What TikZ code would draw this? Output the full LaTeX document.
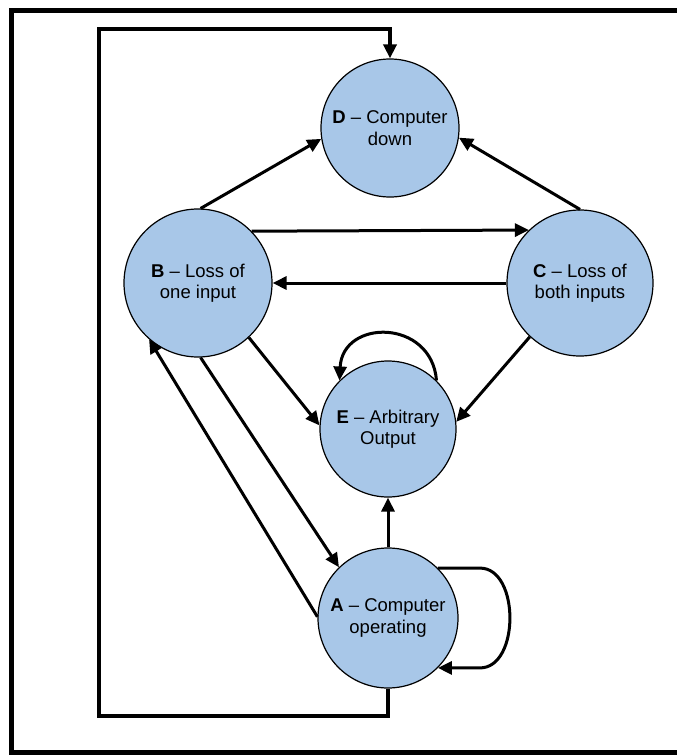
\documentclass[tikz,border=0pt]{standalone}
\usepackage{fontspec}
\setmainfont{Liberation Sans}
\usetikzlibrary{arrows.meta}
\definecolor{stateblue}{RGB}{168,199,232}
\begin{document}
\begin{tikzpicture}[x=1pt,y=-1pt,
  state/.style={circle,draw=black,line width=1.2pt,fill=stateblue,inner sep=0pt,
    align=center,font=\fontsize{18.5}{21.5}\selectfont},
  flow/.style={line width=3pt,line join=miter,-{Triangle[length=14pt,width=13pt]}},
  frameline/.style={line width=5pt,line join=miter}]
\useasboundingbox (0,0) rectangle (677,755);
\fill[white] (0,0) rectangle (677,755);
\draw[frameline] (700,10) -- (11,10) -- (11,752) -- (700,752);

\node[state,minimum size=138pt] (D) at (390,128) {\textbf{D} – Computer\\down};
\node[state,minimum size=148pt] (B) at (198,283) {\textbf{B} – Loss of\\one input};
\node[state,minimum size=146pt] (C) at (580,283) {\textbf{C} – Loss of\\both inputs};
\node[state,minimum size=136pt] (E) at (388,429) {\textbf{E} – Arbitrary\\Output};
\node[state,minimum size=140pt] (A) at (388,618) {\textbf{A} – Computer\\operating};

\coordinate (lb) at (99,716);
\coordinate (lt) at (99,29);

\draw[flow] (B.88) -- (D.189);
\draw[flow] (C.90) -- (D.-8);
\draw[flow] (B.44.6) -- (C.134.5);
\draw[flow] (C.180) -- (B.0);
\draw[flow] (B.-47) -- (E.177);
\draw[flow] (C.227) -- (E.6);
\draw[flow] (B.-88) -- (A.134);
\draw[flow] (A.179) -- (B.229);
\draw[flow] (A.north) -- (E.south);
\draw[flow] (E.45) .. controls +(-5,-62) and +(3,-62) .. (E.135);
\draw[flow] (A.45) -- ++(42,0) .. controls +(40,0) and +(40,0) .. ([xshift=42pt]A.-45) -- (A.-45);
\draw[flow,line width=3.5pt] (A.south) |- (lb) -- (lt) -| (D.north);
\end{tikzpicture}
\end{document}
